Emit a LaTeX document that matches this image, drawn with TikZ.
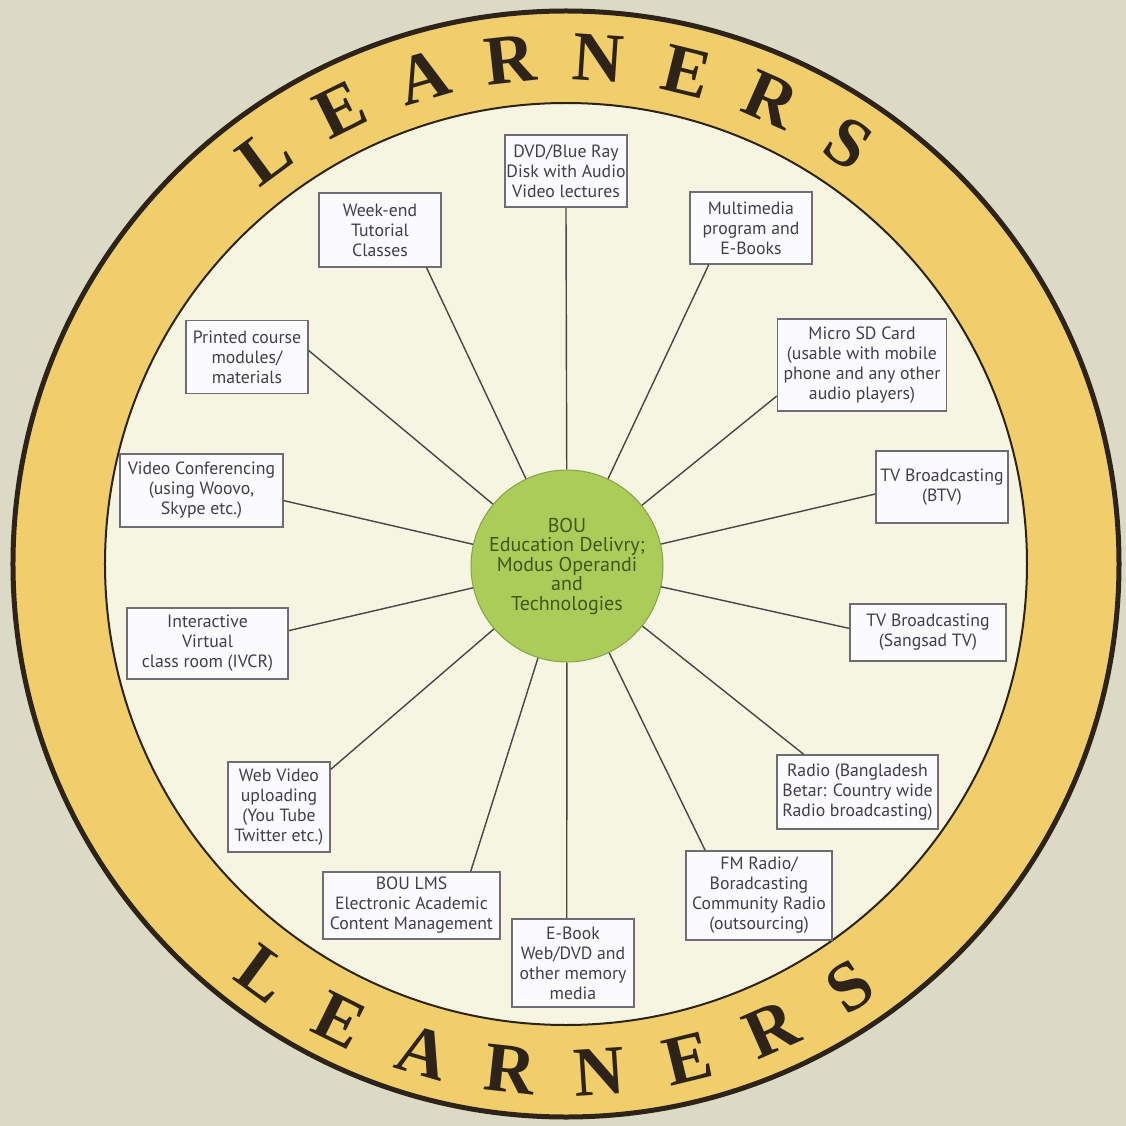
\documentclass[tikz,border=0pt]{standalone}
\usepackage{fontspec}
\setmainfont{Liberation Serif}
\newfontfamily\boxfont{PT Sans}

\definecolor{bgtan}{RGB}{220,217,197}
\definecolor{ringgold}{RGB}{240,206,108}
\definecolor{ringline}{RGB}{45,35,25}
\definecolor{cream}{RGB}{245,245,225}
\definecolor{hubgreen}{RGB}{170,205,90}
\definecolor{hubtext}{RGB}{66,86,28}
\definecolor{boxfill}{RGB}{251,251,253}
\definecolor{boxline}{RGB}{110,108,118}
\definecolor{boxtext}{RGB}{66,60,76}
\definecolor{spokeline}{RGB}{72,70,70}

\begin{document}
\begin{tikzpicture}[x=0.02cm,y=0.02cm,
	box/.style={rectangle, draw=boxline, fill=boxfill, line width=0.8pt, inner sep=0pt, align=center, text=boxtext, font=\boxfont\fontsize{10.1}{11.4}\selectfont},
	hubnode/.style={circle, draw=hubgreen!80!black, fill=hubgreen, line width=0.6pt, inner sep=0pt, minimum size=3.84cm, align=center, text=hubtext, font=\boxfont\fontsize{11.4}{11.1}\selectfont},
	ringletter/.style={inner sep=0pt, text=ringline, font=\bfseries\fontsize{40}{40}\selectfont},
	spoke/.style={draw=spokeline, line width=0.8pt}]

	% background and ring
	\fill[bgtan]	(-566,-562)	rectangle	(560,564);
	\draw[ringline, fill=ringgold, line width=0.1cm]	(0,0)	circle	(553);
	\draw[ringline, fill=cream, line width=0.04cm]	(0,0)	circle	(461);

	% LEARNERS, top
	\node 	(t1)	at	(126.4:507)	[ringletter, rotate=36.4]{L};
	\node 	(t2)	at	(116.4:507)	[ringletter, rotate=26.4]{E};
	\node 	(t3)	at	(106.3:507)	[ringletter, rotate=16.3]{A};
	\node 	(t4)	at	(96.3:507)	[ringletter, rotate=6.3]{R};
	\node 	(t5)	at	(86.3:507)	[ringletter, rotate=-3.7]{N};
	\node 	(t6)	at	(76.2:507)	[ringletter, rotate=-13.8]{E};
	\node 	(t7)	at	(66.2:507)	[ringletter, rotate=-23.8]{R};
	\node 	(t8)	at	(56.1:507)	[ringletter, rotate=-33.9]{S};

	% LEARNERS, bottom
	\node 	(b1)	at	(-126.4:509)	[ringletter, rotate=-36.4]{L};
	\node 	(b2)	at	(-116.4:509)	[ringletter, rotate=-26.4]{E};
	\node 	(b3)	at	(-106.3:509)	[ringletter, rotate=-16.3]{A};
	\node 	(b4)	at	(-96.3:509)	[ringletter, rotate=-6.3]{R};
	\node 	(b5)	at	(-86.3:509)	[ringletter, rotate=3.7]{N};
	\node 	(b6)	at	(-76.2:509)	[ringletter, rotate=13.8]{E};
	\node 	(b7)	at	(-66.2:509)	[ringletter, rotate=23.8]{R};
	\node 	(b8)	at	(-56.1:509)	[ringletter, rotate=33.9]{S};

	% hub
	\node 	(hub)	at	(1,-2)	[hubnode]{BOU\\Education Delivry;\\Modus Operandi\\and\\Technologies};

	% boxes
	\node 	(dvd)	at	(0,393)	[box, minimum width=2.44cm, minimum height=1.44cm]{DVD/Blue Ray\\Disk with Audio\\Video lectures};

	\node 	(week)	at	(-186,334)	[box, minimum width=2.44cm, minimum height=1.48cm]{Week-end\\Tutorial\\Classes};

	\node 	(multi)	at	(185,336)	[box, minimum width=2.44cm, minimum height=1.44cm]{Multimedia\\program and\\E-Books};

	\node 	(printed)	at	(-319,207)	[box, minimum width=2.44cm, minimum height=1.46cm]{Printed course\\modules/\\materials};

	\node 	(micro)	at	(296,199)	[box, minimum width=3.38cm, minimum height=1.84cm]{Micro SD Card\\(usable with mobile\\phone and any other\\audio players)};

	\node 	(vidconf)	at	(-364.5,73.5)	[box, minimum width=3.26cm, minimum height=1.46cm]{Video Conferencing\\(using Woovo,\\Skype etc.)};

	\node 	(btv)	at	(376,77)	[box, minimum width=2.64cm, minimum height=1.44cm]{TV Broadcasting\\(BTV)};

	\node 	(ivcr)	at	(-358.5,-79.5)	[box, minimum width=3.22cm, minimum height=1.42cm]{Interactive\\Virtual\\class room (IVCR)};

	\node 	(sangsad)	at	(362,-68.5)	[box, minimum width=3.12cm, minimum height=1.14cm]{TV Broadcasting\\(Sangsad TV)};

	\node 	(webvid)	at	(-287,-243)	[box, minimum width=2.04cm, minimum height=1.80cm]{Web Video\\uploading\\(You Tube\\Twitter etc.)};

	\node 	(radio)	at	(291.5,-228)	[box, minimum width=3.22cm, minimum height=1.48cm]{Radio (Bangladesh\\Betar: Country wide\\Radio broadcasting)};

	\node 	(lms)	at	(-154.5,-341.5)	[box, minimum width=3.54cm, minimum height=1.34cm]{BOU LMS\\Electronic Academic\\Content Management};

	\node 	(fm)	at	(193,-331.5)	[box, minimum width=2.92cm, minimum height=1.78cm]{FM Radio/\\Boradcasting\\Community Radio\\(outsourcing)};

	\node 	(ebook)	at	(7,-399)	[box, minimum width=2.44cm, minimum height=1.76cm]{E-Book\\Web/DVD and\\other memory\\media};

	% spokes
	\draw[spoke]	(hub)	to	(dvd.south);
	\draw[spoke]	(hub)	to	(week.-39);
	\draw[spoke]	(hub)	to	(multi.-139);
	\draw[spoke]	(hub)	to	(printed.6);
	\draw[spoke]	(hub)	to	(micro.-160);
	\draw[spoke]	(hub)	to	(vidconf.-7);
	\draw[spoke]	(hub)	to	(btv.-174);
	\draw[spoke]	(hub)	to	(ivcr.9);
	\draw[spoke]	(hub)	to	(sangsad.177);
	\draw[spoke]	(hub)	to	(webvid.36);
	\draw[spoke]	(hub)	to	(radio.145);
	\draw[spoke]	(hub)	to	(lms.30);
	\draw[spoke]	(hub)	to	(fm.140);
	\draw[spoke]	(hub)	to	(ebook.98);

\end{tikzpicture}
\end{document}
